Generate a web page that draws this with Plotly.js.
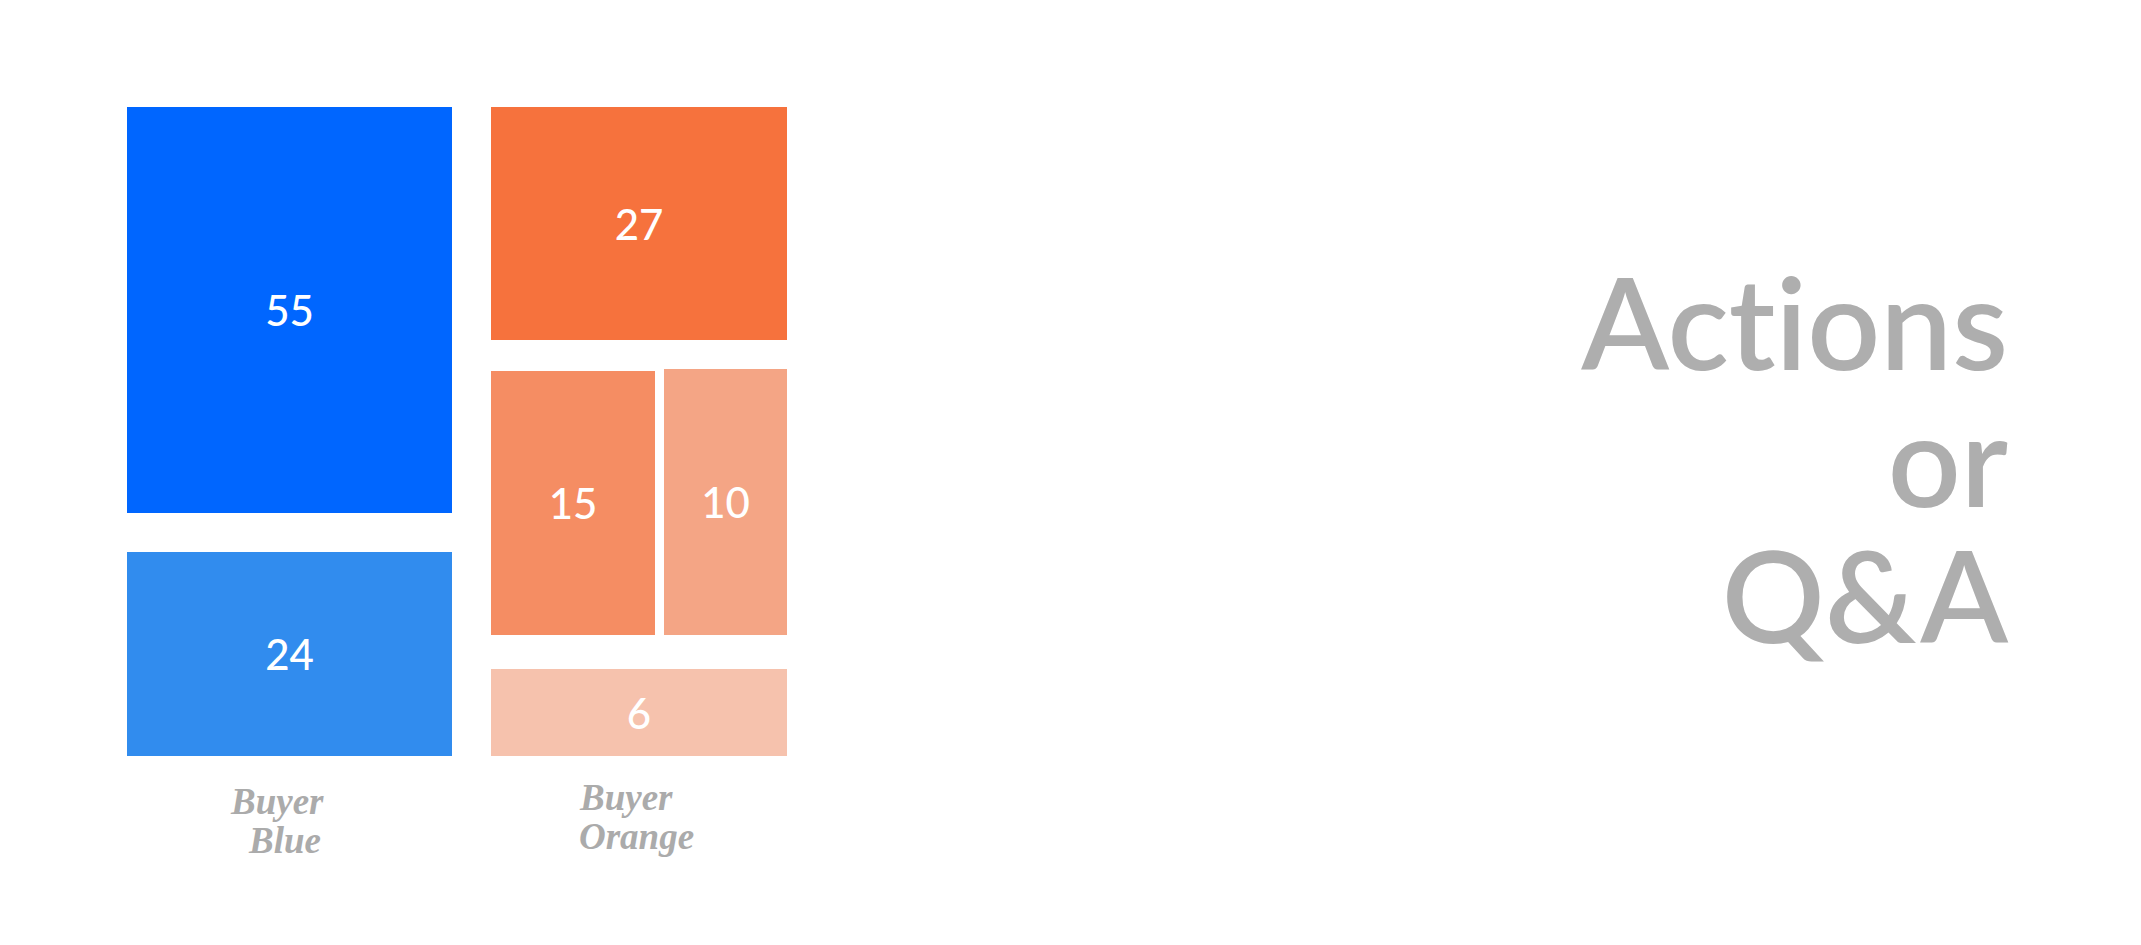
<!DOCTYPE html>
<html>
<head>
<meta charset="utf-8">
<script src="https://cdn.plot.ly/plotly-3.0.1.min.js"></script>
<style>
  html, body { margin: 0; padding: 0; background: #ffffff; }
  #chart { width: 2141px; height: 945px; }
  #chart svg text { font-variant-ligatures: none; font-feature-settings: "liga" 0, "clig" 0; }
</style>
</head>
<body>
<div id="chart"></div>
<script>
// ---- data ----
const tileValues = [55, 24, 27, 15, 10, 6];
const tileGroups = ['Buyer Blue', 'Buyer Blue', 'Buyer Orange', 'Buyer Orange', 'Buyer Orange', 'Buyer Orange'];
const groupLabelLines = [['Buyer', 'Blue'], ['Buyer', 'Orange']];
const sideTitleLines = ['Actions', 'or', 'Q&A'];

// ---- tile layout (chart units) ----
const tileLeft   = [127, 127, 491, 491, 664, 491];
const tileRight  = [452, 452, 787, 655, 787, 787];
const tileTop    = [107, 552, 107, 371, 369, 669];
const tileBottom = [513, 756, 340, 635, 635, 756];

// ---- styles ----
const tileColors = ['#0066FF', '#318CEE', '#F6723D', '#F58D63', '#F4A585', '#F6C2AD'];
const groupLabelX = [[277, 284], [626, 636]];
const groupLabelY = [[801, 840], [797, 836]];
const sideTitleX = 2011;
const sideTitleY = 457;

const trace = {
  type: 'bar',
  orientation: 'v',
  x: tileLeft.map((l, i) => (l + tileRight[i]) / 2),
  width: tileLeft.map((l, i) => tileRight[i] - l),
  base: tileTop,
  y: tileTop.map((t, i) => tileBottom[i] - t),
  text: tileValues.map(String),
  customdata: tileGroups,
  textposition: 'inside',
  insidetextanchor: 'middle',
  constraintext: 'none',
  textangle: 0,
  textfont: { family: 'Lato, sans-serif', size: 42, color: '#ffffff', weight: 500 },
  marker: { color: tileColors, line: { width: 0 } },
  hoverinfo: 'skip',
  showlegend: false
};

const annotations = [];
groupLabelLines.forEach((lines, g) => {
  lines.forEach((txt, k) => {
    annotations.push({
      text: txt, x: groupLabelX[g][k], y: groupLabelY[g][k], xref: 'x', yref: 'y',
      xanchor: 'center', yanchor: 'middle', showarrow: false,
      font: { family: '"Liberation Serif", serif', size: 37, color: '#ABABAB', weight: 'bold', style: 'italic' }
    });
  });
});
annotations.push({
  text: sideTitleLines.map(t => '<span style="font-size:128px">' + t + '</span>').join('<br>'),
  x: sideTitleX, y: sideTitleY, xref: 'x', yref: 'y',
  xanchor: 'right', yanchor: 'middle', align: 'right', showarrow: false,
  font: { family: 'Lato, sans-serif', size: 105, color: '#AEAEAE', weight: 600 }
});

const layout = {
  width: 2141, height: 945,
  margin: { l: 0, r: 0, t: 0, b: 0, pad: 0 },
  paper_bgcolor: '#ffffff', plot_bgcolor: '#ffffff',
  barmode: 'overlay',
  xaxis: { range: [0, 2141], visible: false, fixedrange: true },
  yaxis: { range: [945, 0], visible: false, fixedrange: true },
  annotations: annotations,
  showlegend: false
};

Plotly.newPlot('chart', [trace], layout, { displayModeBar: false, staticPlot: true });
</script>
</body>
</html>
